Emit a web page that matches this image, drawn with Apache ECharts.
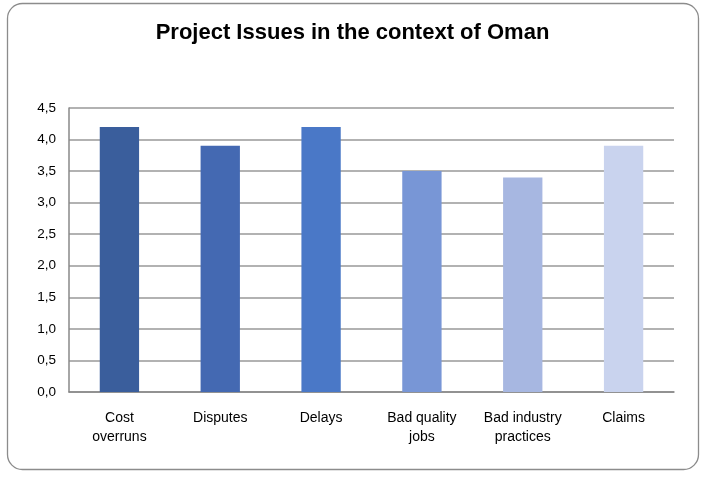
<!DOCTYPE html>
<html>
<head>
<meta charset="utf-8">
<script src="https://cdn.jsdelivr.net/npm/echarts@6/dist/echarts.min.js"></script>
<style>
html,body{margin:0;padding:0;background:#fff;}
#c{width:705px;height:479px;}
</style>
</head>
<body>
<div id="c"></div>
<script>
const titleText = 'Project Issues in the context of Oman';
const categories = ['Cost\noverruns', 'Disputes', 'Delays', 'Bad quality\njobs', 'Bad industry\npractices', 'Claims'];
const values = [4.2, 3.9, 4.2, 3.5, 3.4, 3.9];
const barColors = ['#3A5E9C', '#4469B2', '#4A78C7', '#7896D6', '#A7B7E1', '#C9D3EE'];

const chart = echarts.init(document.getElementById('c'), null, {renderer: 'canvas'});
chart.setOption({
  backgroundColor: '#fff',
  animation: false,
  graphic: [{
    type: 'rect',
    shape: {x: 7.5, y: 3.5, width: 691, height: 466, r: 15},
    style: {fill: 'none', stroke: '#8c8c8c', lineWidth: 1.3},
    z: -1
  }],
  title: {
    text: titleText,
    left: 'center',
    top: 17,
    textStyle: {fontFamily: 'Liberation Sans', fontWeight: 'bold', fontSize: 22, color: '#000'}
  },
  grid: {left: 69, right: 31, top: 108, bottom: 87, containLabel: false},
  xAxis: {
    type: 'category',
    data: categories,
    axisLine: {show: true, lineStyle: {color: '#888', width: 1.5}},
    axisTick: {show: false},
    axisLabel: {
      interval: 0, margin: 17, color: '#000',
      fontFamily: 'Liberation Sans', fontSize: 14, lineHeight: 19
    }
  },
  yAxis: {
    type: 'value',
    min: 0, max: 4.5, interval: 0.5,
    axisLine: {show: true, lineStyle: {color: '#888', width: 1.5}},
    axisTick: {show: false},
    splitLine: {show: true, lineStyle: {color: '#999', width: 1.5}},
    axisLabel: {
      margin: 13, color: '#000', fontFamily: 'Liberation Sans', fontSize: 13.5,
      formatter: v => v.toFixed(1).replace('.', ',')
    }
  },
  series: [{
    type: 'bar',
    data: values.map((v, i) => ({value: v, itemStyle: {color: barColors[i]}})),
    barWidth: '39%'
  }]
});
</script>
</body>
</html>
